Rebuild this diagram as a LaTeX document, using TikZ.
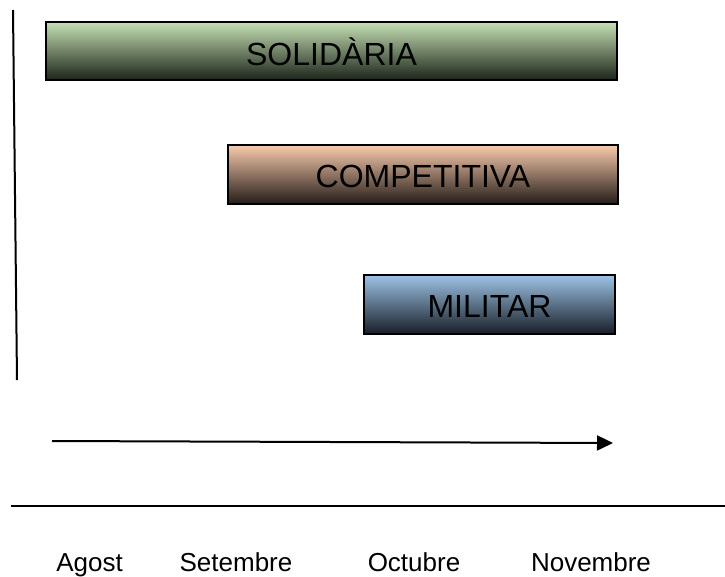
\documentclass[tikz,border=0pt]{standalone}
\usepackage{fontspec}
\setmainfont{Liberation Sans}
\usetikzlibrary{arrows.meta}
\definecolor{gTop}{RGB}{197,224,180}
\definecolor{gBot}{RGB}{28,36,26}
\definecolor{pTop}{RGB}{248,203,173}
\definecolor{pBot}{RGB}{36,28,24}
\definecolor{bTop}{RGB}{157,195,230}
\definecolor{bBot}{RGB}{24,30,38}
\tikzset{
  bar/.style={draw=black, line width=2pt, inner sep=0pt, font=\fontsize{32}{38}\selectfont},
  month/.style={anchor=base, inner sep=0pt, font=\fontsize{26}{30}\selectfont},
  rule/.style={line width=2pt, black},
}
\begin{document}
\begin{tikzpicture}[x=1pt,y=-1pt]
\useasboundingbox (0,0) rectangle (725,576);
\fill[white] (0,0) rectangle (725,576);
% vertical axis
\coordinate (vtop) at (13,10);
\coordinate (vbot) at (17,380);
\draw[line width=2pt] (vtop) -- (vbot);
% bars
\path[bar, top color=gTop, middle color=gTop!75!gBot, bottom color=gBot] (46,22) rectangle (617,80);
\node[font=\fontsize{32}{38}\selectfont] (sol) at (331.5,52) {SOLIDÀRIA};
\path[bar, top color=pTop, middle color=pTop!75!pBot, bottom color=pBot] (228,145) rectangle (618,204);
\node[font=\fontsize{32}{38}\selectfont] (comp) at (423,176) {COMPETITIVA};
\path[bar, top color=bTop, middle color=bTop!75!bBot, bottom color=bBot] (364,275) rectangle (615,334);
\node[font=\fontsize{32}{38}\selectfont] (mil) at (489.5,306) {MILITAR};
% time arrow
\coordinate (astart) at (52,441);
\coordinate (aend) at (613,443);
\draw[line width=2pt, -{Triangle[length=16pt,width=15pt]}] (astart) -- (aend);
% baseline rule
\coordinate (hl) at (11,506);
\coordinate (hr) at (725,506);
\draw[rule] (hl) -- (hr);
% months
\node[month] (ago) at (89.5,571) {Agost};
\node[month] (set) at (236,571) {Setembre};
\node[month] (oct) at (414,571) {Octubre};
\node[month] (nov) at (591,571) {Novembre};
\end{tikzpicture}
\end{document}
